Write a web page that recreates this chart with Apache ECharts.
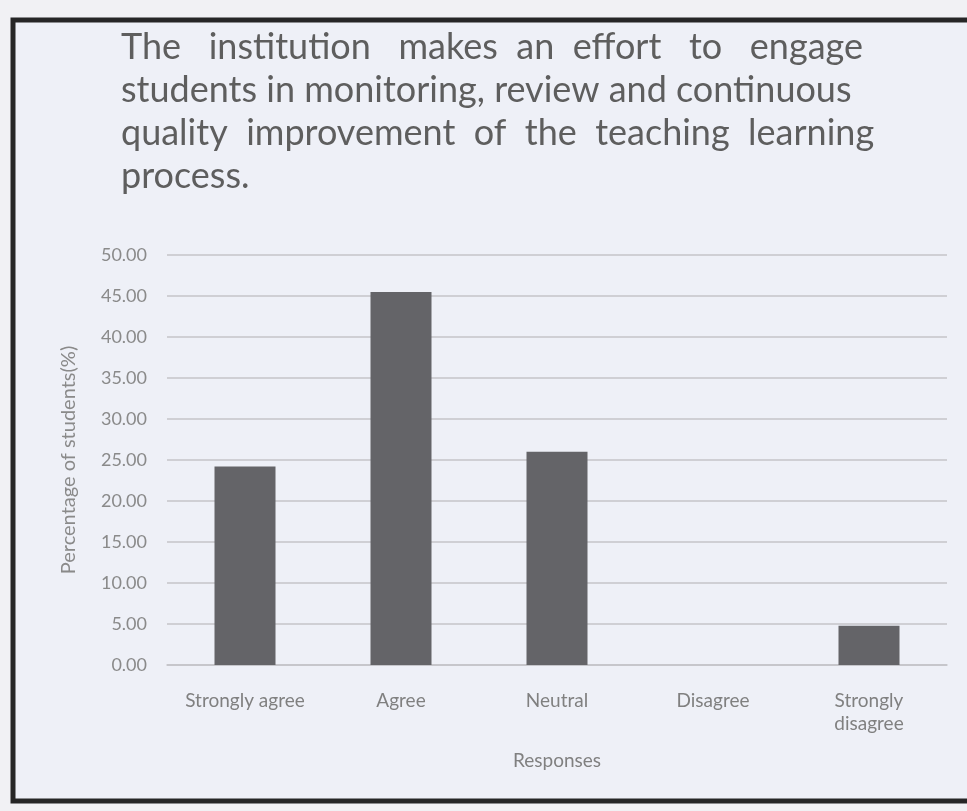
<!DOCTYPE html>
<html>
<head>
<meta charset="utf-8">
<script src="https://cdn.jsdelivr.net/npm/echarts@6/dist/echarts.min.js"></script>
<style>
  html, body { margin: 0; padding: 0; background: #f1f1f4; }
  #chart { width: 967px; height: 811px; }
</style>
</head>
<body>
<div id="chart"></div>
<script>
// data
var categories = ['Strongly agree', 'Agree', 'Neutral', 'Disagree', 'Strongly\ndisagree']
var percentages = [24.2, 45.5, 26.0, 0, 4.8]
var titleLines = [
  'The   institution   makes  an  effort   to   engage',
  'students in monitoring, review and continuous',
  'quality  improvement  of  the  teaching  learning',
  'process.'
]

var myChart = echarts.init(document.getElementById('chart'))

var option = {
  backgroundColor: '#f1f1f4',
  textStyle: { fontFamily: 'Lato' },
  graphic: [
    {
      // framed box around the chart
      type: 'rect',
      z: -10,
      shape: { x: 13, y: 20, width: 980, height: 781 },
      style: { fill: '#eef0f7', stroke: '#262626', lineWidth: 5 }
    }
  ],
  title: {
    text: titleLines.join('\n'),
    left: 116,
    top: 21,
    textStyle: {
      fontFamily: 'Lato',
      fontSize: 36,
      fontWeight: 'normal',
      color: '#5e5e5e',
      lineHeight: 43
    }
  },
  grid: {
    left: 167,
    right: 20,
    top: 255,
    bottom: 146
  },
  xAxis: {
    type: 'category',
    data: categories,
    name: 'Responses',
    nameLocation: 'middle',
    nameGap: 86,
    nameTextStyle: { color: '#808080', fontSize: 19 },
    axisLine: { lineStyle: { color: '#c4c4c8', width: 1.5 } },
    axisTick: { show: false },
    axisLabel: { color: '#808080', fontSize: 19, margin: 24, lineHeight: 23, interval: 0 }
  },
  yAxis: {
    type: 'value',
    min: 0,
    max: 50,
    interval: 5,
    name: 'Percentage of students(%)',
    nameLocation: 'middle',
    nameGap: 88,
    nameTextStyle: { color: '#8a8a8a', fontSize: 20 },
    axisLine: { show: false },
    axisTick: { show: false },
    axisLabel: {
      color: '#8a8a8a',
      fontSize: 18,
      margin: 20,
      formatter: function (v) { return v.toFixed(2) }
    },
    splitLine: { lineStyle: { color: '#c4c4c8', width: 1.5 } }
  },
  series: [{
    type: 'bar',
    data: percentages,
    barWidth: 61,
    itemStyle: { color: '#646468' }
  }]
}

myChart.setOption(option)
</script>
</body>
</html>
